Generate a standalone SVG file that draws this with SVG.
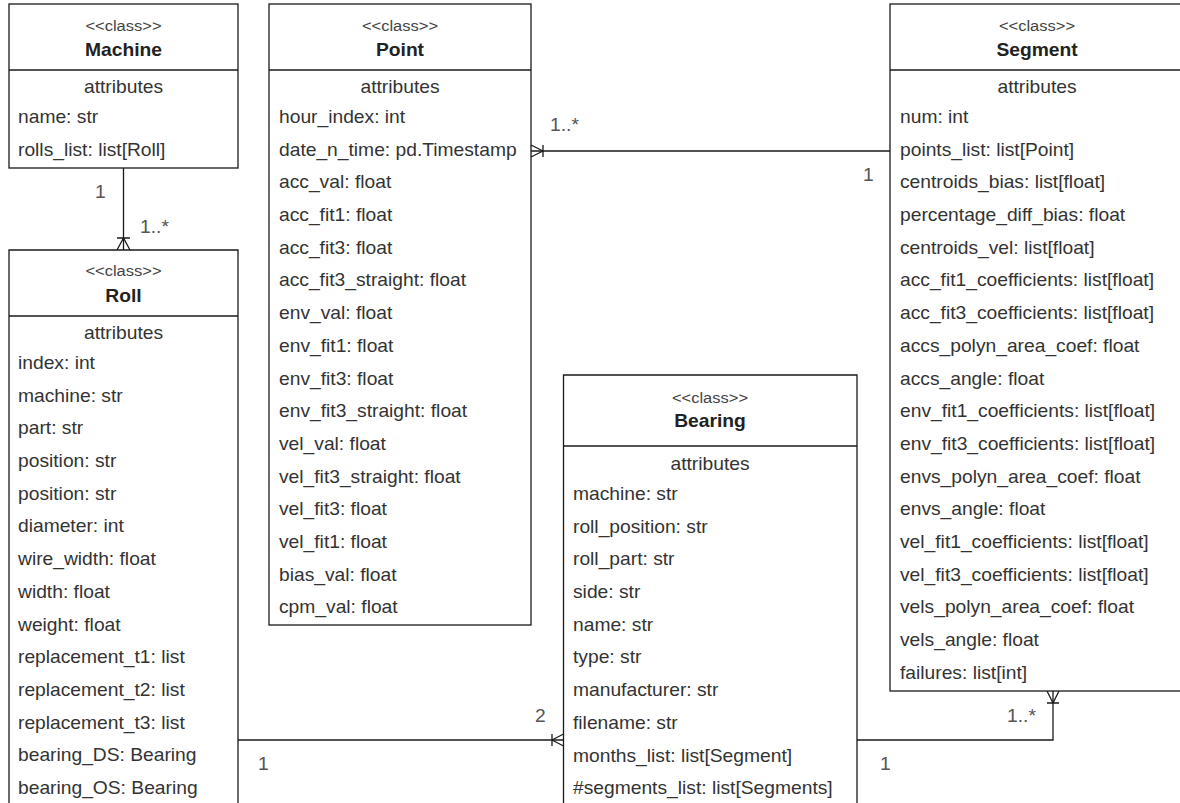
<svg xmlns="http://www.w3.org/2000/svg" width="1180" height="803" viewBox="0 0 1180 803">
<style>
.box{fill:#fff;stroke:#1a1a1a;stroke-width:1.3}
.ln{fill:none;stroke:#1a1a1a;stroke-width:1.3}
text{font-family:"Liberation Sans",Arial,Helvetica,sans-serif;font-size:17.5px;fill:#333}
.st{font-size:15px;fill:#444}
.nm{font-weight:bold;fill:#222}
.c{text-anchor:middle}
.lb{fill:#555}
</style>
<rect width="1180" height="803" fill="#fff"/>

<g id="connectors">
  <path class="ln" d="M123.5,168 V250"/>
  <path class="ln" d="M117,238 H130 M123.5,238 L117,250 M123.5,238 L130,250"/>
  <path class="ln" d="M531,151 H890"/>
  <path class="ln" d="M543,145 V157 M543,151 L531,145 M543,151 L531,157"/>
  <path class="ln" d="M238,740 H563.5"/>
  <path class="ln" d="M552,734 V746 M552,740 L563.5,734 M552,740 L563.5,746"/>
  <path class="ln" d="M857,740 H1053 V691"/>
  <path class="ln" d="M1047,703 H1059 M1053,703 L1047,691 M1053,703 L1059,691"/>
  <g transform="scale(1.1,1)">
    <text class="lb" x="86.4" y="198">1</text>
    <text class="lb" x="127.3" y="233">1..*</text>
    <text class="lb" x="500" y="131">1..*</text>
    <text class="lb" x="784.5" y="181">1</text>
    <text class="lb" x="486.4" y="722">2</text>
    <text class="lb" x="234.5" y="770">1</text>
    <text class="lb" x="915.5" y="722">1..*</text>
    <text class="lb" x="800" y="770">1</text>
  </g>
</g>

<g id="machine">
  <rect class="box" x="9" y="4" width="229" height="164"/>
  <path class="ln" d="M9,70 H238"/>
  <g transform="translate(123.5,0) scale(1.1,1)">
    <text class="st c" x="0" y="31">&lt;&lt;class&gt;&gt;</text>
    <text class="nm c" x="0" y="56">Machine</text>
    <text class="c" x="0" y="93">attributes</text>
  </g>
  <g transform="translate(18,0) scale(1.1,1)">
    <text x="0" y="123">name: str</text>
    <text x="0" y="155.7">rolls_list: list[Roll]</text>
  </g>
</g>

<g id="roll">
  <path class="box" d="M9,818 V250 H238 V818"/>
  <path class="ln" d="M9,316 H238"/>
  <g transform="translate(123.5,0) scale(1.1,1)">
    <text class="st c" x="0" y="276">&lt;&lt;class&gt;&gt;</text>
    <text class="nm c" x="0" y="302">Roll</text>
    <text class="c" x="0" y="339">attributes</text>
  </g>
  <g transform="translate(18,0) scale(1.1,1)">
    <text x="0" y="369">index: int</text>
    <text x="0" y="401.7">machine: str</text>
    <text x="0" y="434.4">part: str</text>
    <text x="0" y="467.1">position: str</text>
    <text x="0" y="499.8">position: str</text>
    <text x="0" y="532.5">diameter: int</text>
    <text x="0" y="565.2">wire_width: float</text>
    <text x="0" y="597.9">width: float</text>
    <text x="0" y="630.6">weight: float</text>
    <text x="0" y="663.3">replacement_t1: list</text>
    <text x="0" y="696">replacement_t2: list</text>
    <text x="0" y="728.7">replacement_t3: list</text>
    <text x="0" y="761.4">bearing_DS: Bearing</text>
    <text x="0" y="794.1">bearing_OS: Bearing</text>
  </g>
</g>

<g id="point">
  <rect class="box" x="269" y="4" width="262" height="621"/>
  <path class="ln" d="M269,70 H531"/>
  <g transform="translate(400,0) scale(1.1,1)">
    <text class="st c" x="0" y="31">&lt;&lt;class&gt;&gt;</text>
    <text class="nm c" x="0" y="56">Point</text>
    <text class="c" x="0" y="93">attributes</text>
  </g>
  <g transform="translate(279,0) scale(1.1,1)">
    <text x="0" y="123">hour_index: int</text>
    <text x="0" y="155.7">date_n_time: pd.Timestamp</text>
    <text x="0" y="188.4">acc_val: float</text>
    <text x="0" y="221.1">acc_fit1: float</text>
    <text x="0" y="253.8">acc_fit3: float</text>
    <text x="0" y="286.5">acc_fit3_straight: float</text>
    <text x="0" y="319.2">env_val: float</text>
    <text x="0" y="351.9">env_fit1: float</text>
    <text x="0" y="384.6">env_fit3: float</text>
    <text x="0" y="417.3">env_fit3_straight: float</text>
    <text x="0" y="450">vel_val: float</text>
    <text x="0" y="482.7">vel_fit3_straight: float</text>
    <text x="0" y="515.4">vel_fit3: float</text>
    <text x="0" y="548.1">vel_fit1: float</text>
    <text x="0" y="580.8">bias_val: float</text>
    <text x="0" y="613.5">cpm_val: float</text>
  </g>
</g>

<g id="segment">
  <rect class="box" x="890" y="4" width="294" height="687"/>
  <path class="ln" d="M890,70 H1184"/>
  <g transform="translate(1037,0) scale(1.1,1)">
    <text class="st c" x="0" y="31">&lt;&lt;class&gt;&gt;</text>
    <text class="nm c" x="0" y="56">Segment</text>
    <text class="c" x="0" y="93">attributes</text>
  </g>
  <g transform="translate(900,0) scale(1.1,1)">
    <text x="0" y="123">num: int</text>
    <text x="0" y="155.7">points_list: list[Point]</text>
    <text x="0" y="188.4">centroids_bias: list[float]</text>
    <text x="0" y="221.1">percentage_diff_bias: float</text>
    <text x="0" y="253.8">centroids_vel: list[float]</text>
    <text x="0" y="286.5">acc_fit1_coefficients: list[float]</text>
    <text x="0" y="319.2">acc_fit3_coefficients: list[float]</text>
    <text x="0" y="351.9">accs_polyn_area_coef: float</text>
    <text x="0" y="384.6">accs_angle: float</text>
    <text x="0" y="417.3">env_fit1_coefficients: list[float]</text>
    <text x="0" y="450">env_fit3_coefficients: list[float]</text>
    <text x="0" y="482.7">envs_polyn_area_coef: float</text>
    <text x="0" y="515.4">envs_angle: float</text>
    <text x="0" y="548.1">vel_fit1_coefficients: list[float]</text>
    <text x="0" y="580.8">vel_fit3_coefficients: list[float]</text>
    <text x="0" y="613.5">vels_polyn_area_coef: float</text>
    <text x="0" y="646.2">vels_angle: float</text>
    <text x="0" y="678.9">failures: list[int]</text>
  </g>
</g>

<g id="bearing">
  <path class="box" d="M563.5,818 V375 H857 V818"/>
  <path class="ln" d="M563.5,446 H857"/>
  <g transform="translate(710,0) scale(1.1,1)">
    <text class="st c" x="0" y="403">&lt;&lt;class&gt;&gt;</text>
    <text class="nm c" x="0" y="427">Bearing</text>
    <text class="c" x="0" y="470">attributes</text>
  </g>
  <g transform="translate(573,0) scale(1.1,1)">
    <text x="0" y="500">machine: str</text>
    <text x="0" y="532.7">roll_position: str</text>
    <text x="0" y="565.4">roll_part: str</text>
    <text x="0" y="598.1">side: str</text>
    <text x="0" y="630.8">name: str</text>
    <text x="0" y="663.5">type: str</text>
    <text x="0" y="696.2">manufacturer: str</text>
    <text x="0" y="728.9">filename: str</text>
    <text x="0" y="761.6">months_list: list[Segment]</text>
    <text x="0" y="794.3">#segments_list: list[Segments]</text>
  </g>
</g>
</svg>
